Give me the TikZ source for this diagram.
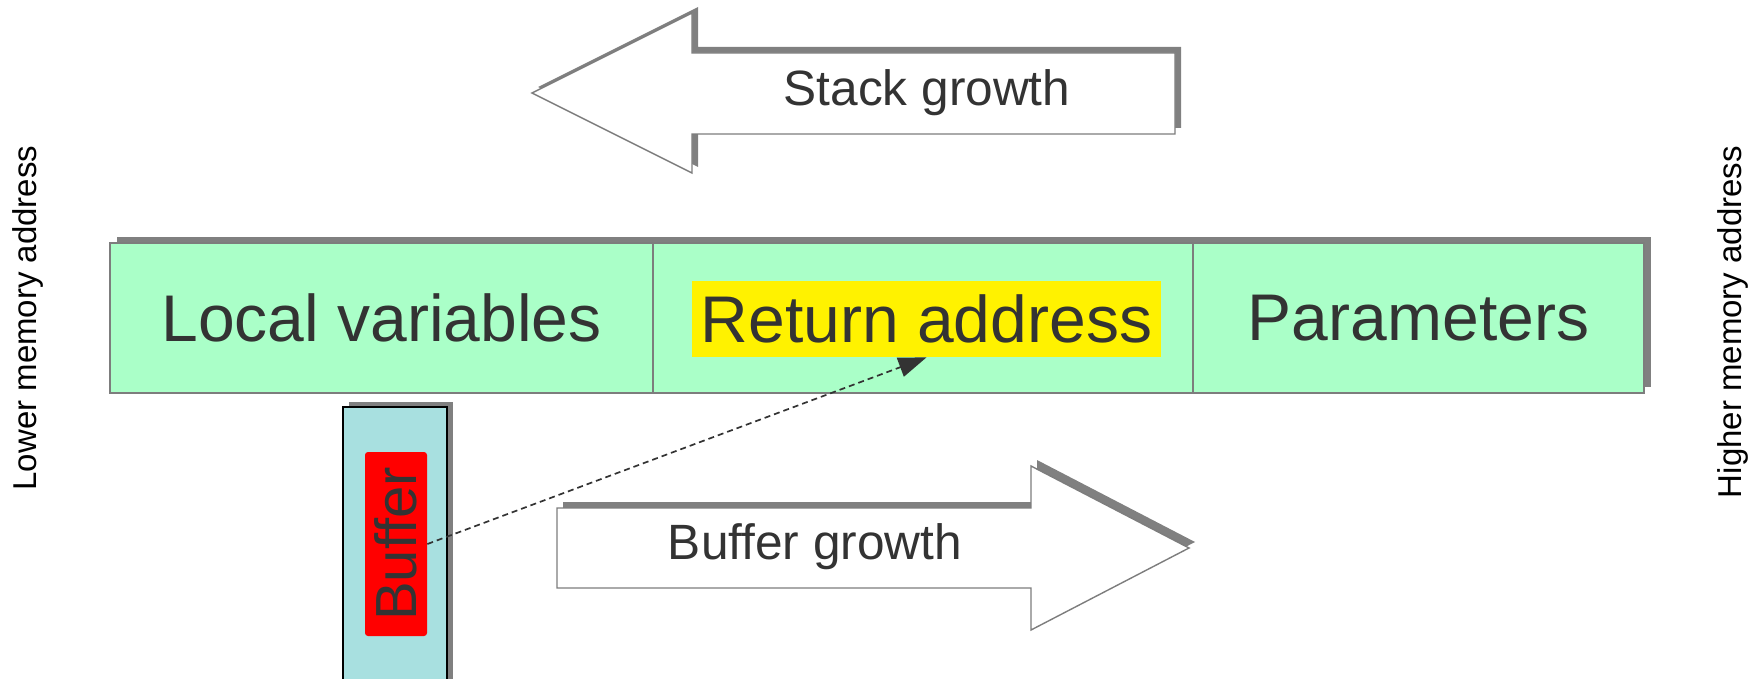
\documentclass[tikz,border=0pt]{standalone}
\usepackage{fontspec}
\setmainfont{Liberation Sans}
\usetikzlibrary{arrows.meta}
\definecolor{cellgreen}{RGB}{170,255,200}
\definecolor{buffcyan}{RGB}{168,224,224}
\definecolor{shadowgray}{RGB}{128,128,128}
\definecolor{edgegray}{RGB}{125,125,125}
\definecolor{txt}{RGB}{51,51,51}
\begin{document}
\begin{tikzpicture}[x=0.5pt,y=-0.5pt,
  cell/.style={draw=edgegray, line width=0.7pt, fill=cellgreen, minimum height=75pt,
    inner sep=0pt, text=txt, font=\fontsize{33}{40}\selectfont},
  bigtext/.style={text=txt, font=\fontsize{33}{40}\selectfont},
  arrowtext/.style={text=txt, font=\fontsize{24.8}{30}\selectfont, inner sep=0pt},
  sidetext/.style={rotate=90, text=black, font=\fontsize{16.5}{20}\selectfont, inner sep=0pt},
  shadowfill/.style={fill=shadowgray, draw=none},
  bigarrow/.style={fill=white, draw=edgegray, line width=0.7pt, line join=miter},
  jumpline/.style={draw=txt, line width=0.85pt, dash pattern=on 3pt off 2pt,
    -{Triangle[length=14pt,width=10pt]}},
]
\useasboundingbox (0,0) rectangle (1750,679);
\clip (0,0) rectangle (1750,679);

% stack growth arrow
\path[shadowfill, shift={(6,-6)}] (532,93) -- (692,13) -- (692,53) -- (1175,53) -- (1175,134) -- (692,134) -- (692,173) -- cycle;
\path[bigarrow] (532,93) -- (692,13) -- (692,53) -- (1175,53) -- (1175,134) -- (692,134) -- (692,173) -- cycle;
\node[arrowtext] (stacktext) at (927,93) {Stack growth};

% frame cells
\path[shadowfill] (117,237) rectangle (1651,387);
\node[cell, minimum width=271.5pt] (local) at (381.5,318) {Local variables};
\node[cell, minimum width=270pt] (ret) at (923,318) {};
\node[cell, minimum width=225.5pt] (params) at (1418.5,318) {Parameters};
\node[bigtext, fill=yellow, minimum width=234.5pt, minimum height=38pt, inner sep=0pt] (rettext) at (926.5,319) {Return address};

% buffer
\path[shadowfill] (349,402) rectangle (453,690);
\node[draw=black, line width=0.6pt, fill=buffcyan, minimum width=52pt, minimum height=141.5pt, inner sep=0pt] (buffbox) at (395,548.5) {};
\node[fill=red, rounded corners=1.5pt, rotate=90, minimum width=92pt, minimum height=31pt, inner sep=0pt,
  text=txt, font=\fontsize{29}{35}\selectfont] (bufftext) at (396,544) {Buffer};

% buffer growth arrow
\path[shadowfill, shift={(6,-6)}] (557,508) -- (1031,508) -- (1031,466) -- (1189,548) -- (1031,630) -- (1031,588) -- (557,588) -- cycle;
\path[bigarrow] (557,508) -- (1031,508) -- (1031,466) -- (1189,548) -- (1031,630) -- (1031,588) -- (557,588) -- cycle;
\node[arrowtext] (buffgrowtext) at (815,547) {Buffer growth};

% overflow connector
\draw[jumpline] (bufftext.south) -- (rettext.south);

% side labels
\node[sidetext] (lower) at (28,318) {Lower memory address};
\node[sidetext] (higher) at (1733,322) {Higher memory address};
\end{tikzpicture}
\end{document}
